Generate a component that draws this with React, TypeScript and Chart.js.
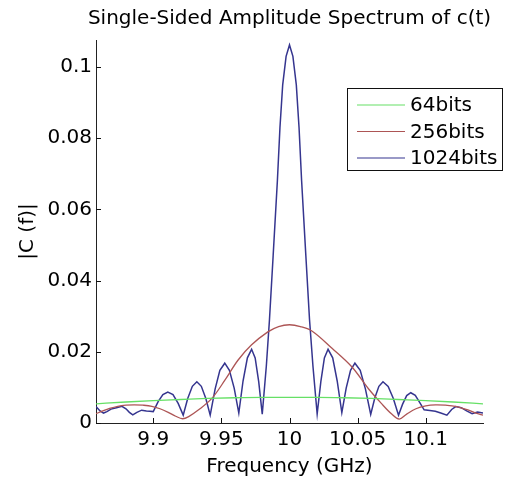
import { useEffect, useRef } from "react";
import { Chart, registerables } from "chart.js";

Chart.register(...registerables);

const chartTitle = "Single-Sided Amplitude Spectrum of c(t)";
const xTitle = "Frequency (GHz)";
const yTitle = "|C (f)|";
const seriesNames = ["64bits", "256bits", "1024bits"];
const seriesColors = ["#66e066", "#ad5555", "#35358f"];

const xTicks = [9.9, 9.95, 10, 10.05, 10.1];
const xTickLabels = ["9.9", "9.95", "10", "10.05", "10.1"];
const yTicks = [0, 0.02, 0.04, 0.06, 0.08, 0.1];
const yTickLabels = ["0", "0.02", "0.04", "0.06", "0.08", "0.1"];

const f64 = [9.858, 9.88, 9.9, 9.92, 9.94, 9.96, 9.98, 10.0, 10.02, 10.04, 10.06, 10.08, 10.1, 10.12, 10.142];
const a64 = [0.0054, 0.0059, 0.0063, 0.0066, 0.0069, 0.0071, 0.0072, 0.0072, 0.0072, 0.0071, 0.0069, 0.0066, 0.0063, 0.0059, 0.0054];

const f256 = [
  9.858, 9.863, 9.868, 9.874, 9.88, 9.886, 9.8925, 9.899, 9.905, 9.911, 9.9165, 9.9215, 9.926, 9.9333,
  9.943, 9.9527, 9.9623, 9.972, 9.9841, 9.992, 10.0, 10.008, 10.0167, 10.0312, 10.0457, 10.0578,
  10.0674, 10.075, 10.0805, 10.086, 10.0928, 10.1, 10.1072, 10.1145, 10.1217, 10.1314, 10.1375, 10.142,
];
const a256 = [
  0.0026, 0.0034, 0.0041, 0.0047, 0.005, 0.0051, 0.005, 0.0047, 0.004, 0.003, 0.0019, 0.0012, 0.0018, 0.0037,
  0.0069, 0.0121, 0.0177, 0.0219, 0.0256, 0.0271, 0.0276, 0.0271, 0.0258, 0.021, 0.0158, 0.0097,
  0.0055, 0.0025, 0.0011, 0.0025, 0.004, 0.0048, 0.0051, 0.005, 0.0047, 0.0036, 0.0027, 0.0022,
];

const f1024 = [
  9.858, 9.861, 9.8635, 9.866, 9.869, 9.873, 9.877, 9.88, 9.8825, 9.885, 9.888, 9.8915, 9.895, 9.8975,
  9.9, 9.9036, 9.9071, 9.9107, 9.9145, 9.9183,
  9.922, 9.9253, 9.9287, 9.932, 9.9353, 9.9386,
  9.9418, 9.9454, 9.9489, 9.9525, 9.9559, 9.9594,
  9.9628, 9.9659, 9.9691, 9.9722, 9.9748, 9.9774,
  9.98, 9.983, 9.9853, 9.988, 9.9911, 9.993, 9.995, 9.9975, 10.0, 10.0025, 10.005, 10.007, 10.0089, 10.012, 10.0147, 10.0172,
  10.0203, 10.023, 10.0256, 10.0283, 10.0317, 10.035,
  10.0384, 10.0416, 10.0448, 10.048, 10.0519, 10.0557,
  10.0596, 10.0626, 10.0656, 10.0686, 10.0724, 10.0762,
  10.08, 10.083, 10.086, 10.089, 10.0923, 10.0955,
  10.0988, 10.103, 10.107, 10.111, 10.1155, 10.119, 10.122, 10.126, 10.13, 10.134, 10.138, 10.142,
];
const a1024 = [
  0.0046, 0.0034, 0.0028, 0.0032, 0.0039, 0.0043, 0.0047, 0.004, 0.003, 0.0023, 0.003, 0.0036, 0.0034, 0.0033,
  0.0032, 0.006, 0.008, 0.0087, 0.008, 0.0055,
  0.0022, 0.0069, 0.0103, 0.0116, 0.0103, 0.0069,
  0.0022, 0.0095, 0.0148, 0.0168, 0.0148, 0.0098,
  0.0028, 0.0118, 0.0183, 0.0207, 0.0183, 0.0116,
  0.0025, 0.016, 0.029, 0.047, 0.068, 0.083, 0.095, 0.103, 0.1062, 0.103, 0.095, 0.083, 0.068, 0.047, 0.029, 0.016,
  0.0025, 0.0116, 0.0183, 0.0207, 0.0183, 0.0118,
  0.0029, 0.0098, 0.0148, 0.0168, 0.0148, 0.0096,
  0.0024, 0.007, 0.0103, 0.0116, 0.0103, 0.0069,
  0.0022, 0.0053, 0.0077, 0.0085, 0.0078, 0.0058,
  0.0037, 0.0035, 0.0033, 0.0028, 0.0022, 0.0038, 0.0046, 0.0043, 0.0034, 0.0026, 0.0031, 0.0028,
];

const FONT = '"DejaVu Sans", sans-serif';

const toPoints = (xs: number[], ys: number[]) => xs.map((x, i) => ({ x, y: ys[i] }));

const innerTicks = {
  id: "innerTicks",
  afterDatasetsDraw(chart: any) {
    const { ctx, chartArea, scales } = chart;
    ctx.save();
    ctx.strokeStyle = "#111";
    ctx.lineWidth = 1;
    xTicks.forEach((v) => {
      const px = Math.round(scales.x.getPixelForValue(v)) + 0.5;
      ctx.beginPath();
      ctx.moveTo(px, chartArea.bottom);
      ctx.lineTo(px, chartArea.bottom - 5);
      ctx.stroke();
    });
    yTicks.forEach((v) => {
      const py = Math.round(scales.y.getPixelForValue(v)) + 0.5;
      ctx.beginPath();
      ctx.moveTo(chartArea.left, py);
      ctx.lineTo(chartArea.left + 5, py);
      ctx.stroke();
    });
    ctx.restore();
  },
};

const titleAndLegend = {
  id: "titleAndLegend",
  afterDraw(chart: any) {
    const { ctx, chartArea } = chart;
    ctx.save();
    ctx.fillStyle = "#000";
    ctx.font = `20px ${FONT}`;
    ctx.textAlign = "center";
    ctx.textBaseline = "alphabetic";
    ctx.fillText(chartTitle, (chartArea.left + chartArea.right) / 2, 24);

    // legend box
    const bx = chartArea.right - 136;
    const by = chartArea.top + 48;
    const bw = 155;
    const bh = 82;
    ctx.fillStyle = "#fff";
    ctx.fillRect(bx, by, bw, bh);
    ctx.strokeStyle = "#111";
    ctx.lineWidth = 1;
    ctx.strokeRect(Math.round(bx) + 0.5, Math.round(by) + 0.5, bw, bh);
    ctx.textAlign = "left";
    ctx.textBaseline = "middle";
    ctx.font = `20px ${FONT}`;
    chart.data.datasets.forEach((ds: any, i: number) => {
      const y = by + 17 + i * 26.5;
      ctx.strokeStyle = ds.borderColor;
      ctx.lineWidth = 1.2;
      ctx.beginPath();
      ctx.moveTo(bx + 10, y);
      ctx.lineTo(bx + 58, y);
      ctx.stroke();
      ctx.fillStyle = "#000";
      ctx.fillText(ds.label, bx + 63, y + 1);
    });
    ctx.restore();
  },
};

export default function App() {
  const ref = useRef<HTMLCanvasElement | null>(null);
  useEffect(() => {
    document.body.style.margin = "0";
    const canvas = ref.current;
    if (!canvas) return;
    const chart = new Chart(canvas, {
      type: "line",
      data: {
        datasets: [
          {
            label: seriesNames[0],
            data: toPoints(f64, a64),
            borderColor: seriesColors[0],
            borderWidth: 1.3,
            pointRadius: 0,
            cubicInterpolationMode: "monotone",
            fill: false,
          },
          {
            label: seriesNames[1],
            data: toPoints(f256, a256),
            borderColor: seriesColors[1],
            borderWidth: 1.3,
            pointRadius: 0,
            tension: 0.35,
            fill: false,
          },
          {
            label: seriesNames[2],
            data: toPoints(f1024, a1024),
            borderColor: seriesColors[2],
            borderWidth: 1.5,
            pointRadius: 0,
            tension: 0,
            fill: false,
          },
        ],
      },
      options: {
        responsive: false,
        animation: false,
        devicePixelRatio: 1,
        layout: { padding: { top: 40, right: 24, bottom: 0, left: 0 } },
        plugins: {
          legend: { display: false },
          title: { display: false },
          tooltip: { enabled: false },
        },
        scales: {
          x: {
            type: "linear",
            min: 9.858,
            max: 10.142,
            afterBuildTicks: (scale: any) => {
              scale.ticks = xTicks.map((v) => ({ value: v }));
            },
            afterFit: (scale: any) => {
              scale.height = 56;
            },
            ticks: {
              color: "#000",
              font: { family: FONT, size: 20 },
              padding: 5,
              maxRotation: 0,
              autoSkip: false,
              callback: (_v: any, i: number) => xTickLabels[i],
            },
            grid: { display: true, drawOnChartArea: false, drawTicks: false },
            border: { display: true, color: "#222", width: 1 },
            title: {
              display: true,
              text: xTitle,
              color: "#000",
              font: { family: FONT, size: 20 },
              padding: { top: 0, bottom: 0 },
            },
          },
          y: {
            type: "linear",
            min: 0,
            max: 0.1076,
            afterBuildTicks: (scale: any) => {
              scale.ticks = yTicks.map((v) => ({ value: v }));
            },
            afterFit: (scale: any) => {
              scale.width = 96;
            },
            ticks: {
              color: "#000",
              font: { family: FONT, size: 20 },
              padding: 4,
              autoSkip: false,
              callback: (_v: any, i: number) => yTickLabels[i],
            },
            grid: { display: true, drawOnChartArea: false, drawTicks: false },
            border: { display: true, color: "#222", width: 1 },
            title: {
              display: true,
              text: yTitle,
              color: "#000",
              font: { family: FONT, size: 20 },
              padding: { top: 16, bottom: 0 },
            },
          },
        },
      },
      plugins: [innerTicks, titleAndLegend],
    } as any);
    return () => chart.destroy();
  }, []);
  return <canvas ref={ref} width={507} height={479} style={{ display: "block" }} />;
}
